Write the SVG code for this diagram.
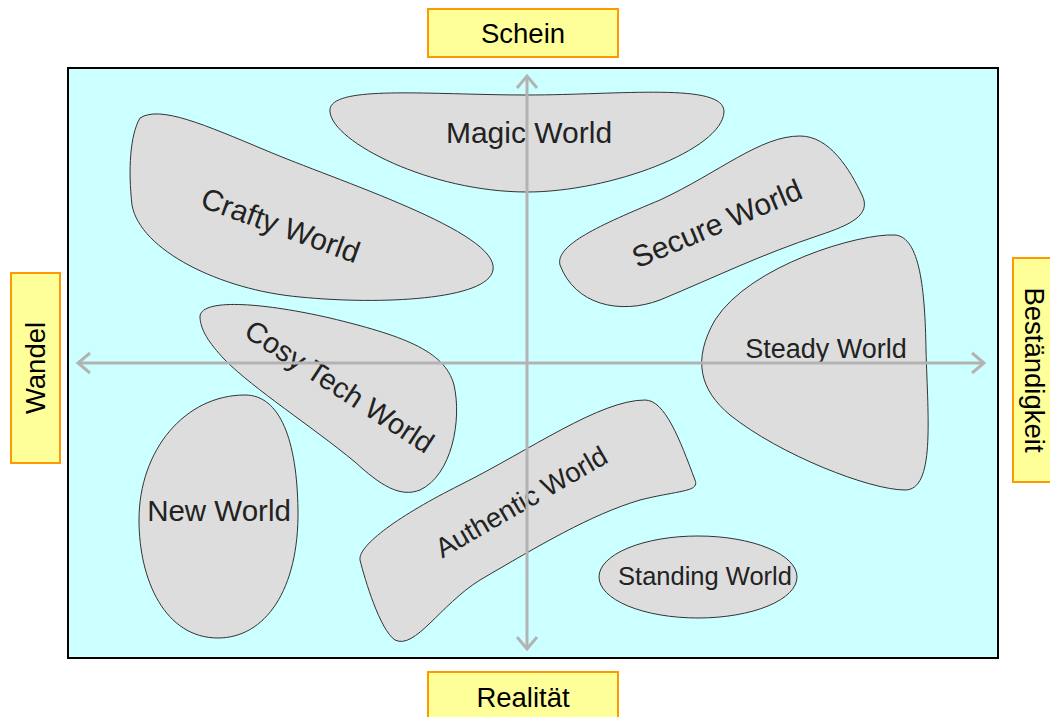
<svg xmlns="http://www.w3.org/2000/svg" width="1050" height="717" viewBox="0 0 1050 717">
<style>
.blob{fill:#DDDDDD;stroke:#333333;stroke-width:1}
.lbl{fill:#222222;font-family:"Liberation Sans",Arial,sans-serif;text-anchor:middle}
.box{fill:#FFFF99;stroke:#FF9900;stroke-width:2}
.ax{fill:#000;font-family:"Liberation Sans",Arial,sans-serif;font-size:27.5px;text-anchor:middle}
.axis{stroke:#B3B3B3;stroke-width:3;fill:none}
</style>
<rect width="1050" height="717" fill="#FFFFFF"/>
<rect x="68" y="68" width="930" height="590" fill="#CCFFFF" stroke="#000" stroke-width="2"/>

<g id="magic">
<path class="blob" d="M 330,112 C 326,84 430,95 527,95 C 620,95 725,82 724,112 C 722,150 610,192 527,192 C 430,192 333,142 330,112 Z"/>
<text class="lbl" x="529" y="143" font-size="30">Magic World</text>
</g>
<g id="crafty">
<path class="blob" d="M 140,118 C 160,105 205,125 265,150 C 335,180 500,232 493,270 C 488,300 380,305 300,297 C 220,290 140,250 132,205 C 128,170 130,135 140,118 Z"/>
<text class="lbl" transform="translate(277,235) rotate(20)" font-size="30">Crafty World</text>
</g>
<g id="secure">
<path class="blob" d="M 560,265 C 555,245 600,225 660,200 C 720,172 760,136 800,136 C 830,136 850,170 862,195 C 872,215 850,225 820,235 C 760,255 720,275 660,300 C 620,315 575,305 560,265 Z"/>
<text class="lbl" transform="translate(721,233) rotate(-23)" font-size="30">Secure World</text>
</g>
<g id="cosy">
<path class="blob" d="M 200,318 C 198,298 260,302 330,318 C 400,335 445,350 454,385 C 462,420 452,475 420,490 C 400,498 380,485 355,462 C 310,425 255,390 225,360 C 208,342 201,330 200,318 Z"/>
<text class="lbl" transform="translate(334,395) rotate(33)" font-size="29">Cosy Tech World</text>
</g>
<g id="steady">
<path class="blob" d="M 895,235 C 920,237 925,290 926,350 C 928,420 935,490 905,490 C 870,490 780,455 730,415 C 700,390 692,360 715,320 C 750,265 860,233 895,235 Z"/>
<text class="lbl" x="826" y="358" font-size="27">Steady World</text>
</g>
<g id="new">
<path class="blob" d="M 245,395 C 280,395 297,440 298,510 C 299,590 265,638 218,638 C 165,638 139,580 139,520 C 139,450 185,395 245,395 Z"/>
<text class="lbl" x="219" y="521" font-size="29.5">New World</text>
</g>
<g id="authentic">
<path class="blob" d="M 645,400 C 665,400 680,440 695,480 C 700,492 680,490 640,500 C 590,515 540,545 480,580 C 440,605 415,650 395,640 C 380,630 365,580 360,560 C 358,545 400,515 460,485 C 530,450 600,400 645,400 Z"/>
<text class="lbl" transform="translate(526,510) rotate(-30)" font-size="27.5">Authentic World</text>
</g>
<g id="standing">
<ellipse class="blob" cx="698" cy="577" rx="99" ry="41"/>
<text class="lbl" x="705" y="585" font-size="25.5">Standing World</text>
</g>

<g id="connectors">
<line class="axis" x1="527" y1="76" x2="527" y2="649"/>
<polyline class="axis" points="517,88 527,76 537,88"/>
<polyline class="axis" points="517,637 527,649 537,637"/>
<line class="axis" x1="78" y1="363" x2="984" y2="363"/>
<polyline class="axis" points="90,353 78,363 90,373"/>
<polyline class="axis" points="972,353 984,363 972,373"/>
</g>

<g id="schein">
<rect class="box" x="428" y="9" width="190" height="48"/>
<text class="ax" x="523" y="43">Schein</text>
</g>
<g id="wandel">
<rect class="box" x="11" y="273" width="49" height="190"/>
<text class="ax" transform="translate(45,368) rotate(-90)">Wandel</text>
</g>
<g id="bestaendigkeit">
<rect class="box" x="1013" y="258" width="45" height="224"/>
<text class="ax" transform="translate(1025,370) rotate(90)">Beständigkeit</text>
</g>
<g id="realitaet">
<rect class="box" x="428" y="672" width="190" height="50"/>
<text class="ax" x="523" y="707">Realität</text>
</g>
</svg>
